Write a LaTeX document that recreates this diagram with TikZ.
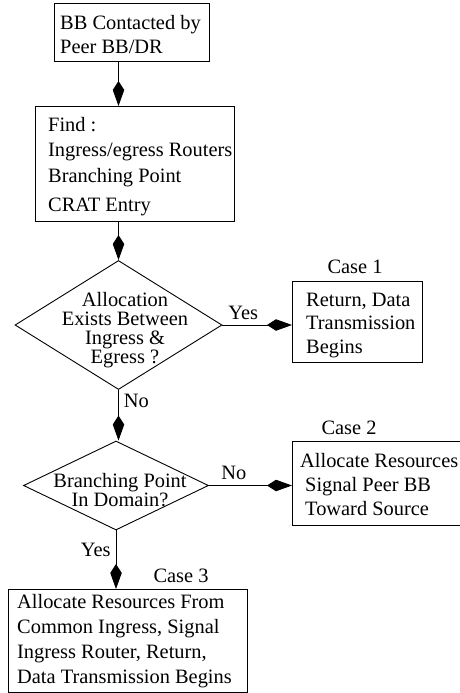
\documentclass[tikz,border=0pt]{standalone}
\usepackage{fontspec}
\setmainfont{Liberation Serif}
\usetikzlibrary{shapes.geometric,arrows.meta}

\tikzset{
  box/.style={draw, rectangle, line width=0.9pt, inner sep=0pt, anchor=north west},
  decision/.style={draw, diamond, line width=0.9pt, inner sep=0pt, aspect=1},
  txt/.style={align=left, inner sep=0pt, anchor=base west},
  dtxt/.style={align=center, inner sep=0pt, font=\fontsize{20.4}{19}\selectfont},
  flow/.style={draw, line width=0.9pt, -{Kite[length=25pt,width=11.5pt,inset=9pt]}},
  lbl/.style={inner sep=5pt},
}

\begin{document}
\begin{tikzpicture}[x=1pt, y=-1pt, auto, font=\fontsize{20.4}{24.5}\selectfont]
	\useasboundingbox (0,0) rectangle (459,693);

	% boxes and decisions (text nodes sit on the baseline of their last line)
	\node[box, minimum width=155, minimum height=58] (contact) at (54,3) {};
	\node[txt] (contact-txt) at (60,54) {BB Contacted by\\Peer BB/DR};

	\node[box, minimum width=199, minimum height=115] (find) at (35,106) {};
	\node[txt, font=\fontsize{20.4}{25.5}\selectfont] (find-txt) at (48,211) {Find :\\Ingress/egress Routers\\Branching Point\\[3.5pt]CRAT Entry};

	\node[decision, minimum width=207, minimum height=129] (alloc) at (118.5,325) {};
	\node[dtxt] (alloc-txt) at (125,330) {Allocation\\Exists Between\\Ingress \&\\Egress ?};

	\node[box, minimum width=130, minimum height=81] (ret) at (292,281) {};
	\node[txt, font=\fontsize{20.4}{23.5}\selectfont] (ret-txt) at (306,353) {Return, Data\\Transmission\\Begins};
	\node[anchor=base] (case1) at (355,273) {Case 1};

	\node[decision, minimum width=185, minimum height=89] (branch) at (116,485.5) {};
	\node[dtxt] (branch-txt) at (120,490) {Branching Point\\In Domain?};

	\node[box, minimum width=176, minimum height=84] (peer) at (292,441) {};
	\node[txt, font=\fontsize{20.4}{24}\selectfont] (peer-txt) at (300,515) {Allocate Resources\\\hspace*{5pt}Signal Peer BB\\\hspace*{5pt}Toward Source};
	\node[anchor=base] (case2) at (349,434) {Case 2};

	\node[box, minimum width=239, minimum height=103] (grant) at (8,589) {};
	\node[txt, font=\fontsize{20.4}{25}\selectfont] (grant-txt) at (17,683) {Allocate Resources From\\Common Ingress, Signal\\Ingress Router, Return,\\Data Transmission Begins};
	\node[anchor=base] (case3) at (181,582) {Case 3};

	% connectors
	\draw[flow] (alloc.north |- contact.south) -- (alloc.north |- find.north);
	\draw[flow] (alloc.north |- find.south) -- (alloc.north);
	\draw[flow] (alloc.east) to node[lbl, pos=.3] {Yes} (alloc.east -| ret.west);
	\draw[flow] (alloc.south) to node[lbl, pos=.22] {No} (alloc.south |- branch.north);
	\draw[flow] (branch.east) to node[lbl, pos=.3] {No} (branch.east -| peer.west);
	\draw[flow] (branch.south) to node[lbl, swap, pos=.34] {Yes} (branch.south |- grant.north);
\end{tikzpicture}
\end{document}
